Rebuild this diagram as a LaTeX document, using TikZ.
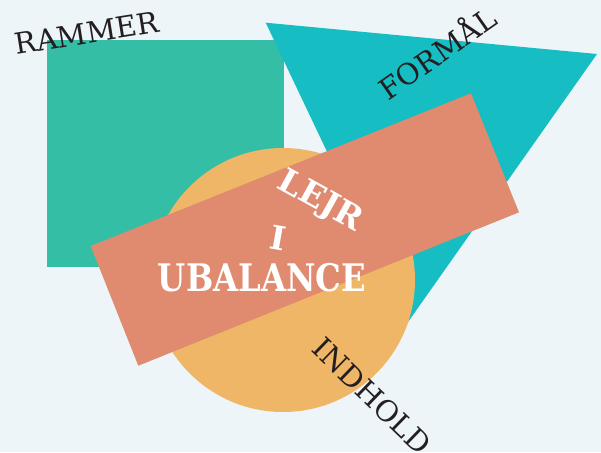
\documentclass[tikz,border=0pt]{standalone}
\usepackage{fontspec}
\setmainfont{DejaVu Serif}
\definecolor{bgblue}{RGB}{237,245,248}
\definecolor{rammergreen}{RGB}{52,190,166}
\definecolor{formaalteal}{RGB}{22,189,194}
\definecolor{indholdorange}{RGB}{239,182,103}
\definecolor{lejrsalmon}{RGB}{224,138,111}
\definecolor{inkdark}{RGB}{35,31,32}
\tikzset{
  wordtxt/.style={inner sep=0pt, text=inkdark, font=\fontsize{29}{29}\selectfont},
  titletxt/.style={inner sep=0pt, text=white, font=\bfseries\fontsize{33}{33}\selectfont}
}

\begin{document}
\begin{tikzpicture}[x=1pt,y=-1pt]
          \fill[bgblue] (0,0) rectangle (601,452);
          \useasboundingbox (0,0) rectangle (601,452);
          % shapes
          \fill[rammergreen] (47,40) rectangle (284,267);
          \fill[formaalteal] (265.7,22.7) -- (597,54) -- (408,322) -- cycle;
          \fill[indholdorange] (283,280) circle (132pt);
          \fill[lejrsalmon] (90.7,246) -- (471,93.3) -- (519,212.3) -- (138.3,365.7) -- cycle;
          % words
          \node[wordtxt, rotate=9] (rammer) at (86.5,33.1) {RAMMER};
          \node[wordtxt, rotate=35, anchor=base] (formaal) at (444,62.6) {FORMÅL};
          \node[wordtxt, rotate=-44] (indhold) at (372,396) {INDHOLD};
          %
          \node[titletxt, rotate=-29] (lejr) at (320,202) {LEJR};
          \node[titletxt, rotate=-10] (i) at (278,238) {I};
          \node[titletxt, font=\bfseries\fontsize{38}{38}\selectfont] (ubalance) at (262,278) {\scalebox{0.85}[1]{UBALANCE}};
        \end{tikzpicture}
\end{document}
